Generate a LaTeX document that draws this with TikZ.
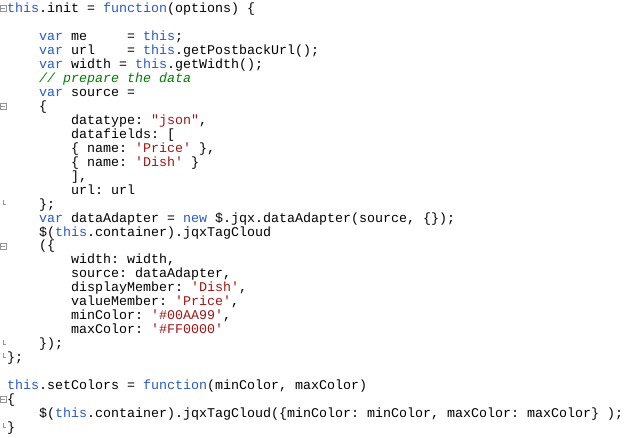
\documentclass[tikz,border=0pt]{standalone}
\usepackage{fontspec}
\usetikzlibrary{calc}
\setmonofont{Liberation Mono}
\definecolor{kw}{RGB}{40,90,200}
\definecolor{st}{RGB}{163,21,21}
\definecolor{cm}{RGB}{0,128,0}
\definecolor{fold}{RGB}{150,150,150}
\newcommand{\K}[1]{\textcolor{kw}{#1}}
\newcommand{\Sq}[1]{\textcolor{st}{#1}}
\tikzset{ln/.style={anchor=base west,inner sep=0pt,font=\ttfamily\fontsize{13.33bp}{14bp}\selectfont,text=black},
 foldbox/.style={draw=fold,fill=white,line width=0.6bp,minimum size=6bp,inner sep=0pt}}
\newcommand{\CL}[3]{\node[ln] (l#1) at ({7+32*#2},{12.5+13.97*(#1-1)}) {#3};}
\begin{document}
\begin{tikzpicture}[x=1bp,y=-1bp]
\useasboundingbox[fill=white] (0,0) rectangle (626,438);
\CL{1}{0}{\K{this}.init = \K{function}(options) \{}
\CL{3}{1}{\K{var} me~~~~ = \K{this};}
\CL{4}{1}{\K{var} url~~~ = \K{this}.getPostbackUrl();}
\CL{5}{1}{\K{var} width = \K{this}.getWidth();}
\CL{6}{1}{\textcolor{cm}{\itshape // prepare the data}}
\CL{7}{1}{\K{var} source =}
\CL{8}{1}{\{}
\CL{9}{2}{datatype: \Sq{"json"},}
\CL{10}{2}{datafields: [}
\CL{11}{2}{\{ name: \Sq{'Price'} \},}
\CL{12}{2}{\{ name: \Sq{'Dish'} \}}
\CL{13}{2}{],}
\CL{14}{2}{url: url}
\CL{15}{1}{\};}
\CL{16}{1}{\K{var} dataAdapter = \K{new} \$.jqx.dataAdapter(source, \{\});}
\CL{17}{1}{\$(\K{this}.container).jqxTagCloud}
\CL{18}{1}{(\{}
\CL{19}{2}{width: width,}
\CL{20}{2}{source: dataAdapter,}
\CL{21}{2}{displayMember: \Sq{'Dish'},}
\CL{22}{2}{valueMember: \Sq{'Price'},}
\CL{23}{2}{minColor: \Sq{'\#00AA99'},}
\CL{24}{2}{maxColor: \Sq{'\#FF0000'}}
\CL{25}{1}{\});}
\CL{26}{0}{\};}
\CL{28}{0}{\K{this}.setColors = \K{function}(minColor, maxColor)}
\CL{29}{0}{\{}
\CL{30}{1}{\$(\K{this}.container).jqxTagCloud(\{minColor: minColor, maxColor: maxColor\} );}
\CL{31}{0}{\}}
\foreach \n/\yy in {f1/8, f8/106, f18/246, f29/399}{
  \node[foldbox] (\n) at (3,\yy) {};
  \draw[fold,line width=0.6bp] ($(\n.center)+(-1.8,0)$) -- ($(\n.center)+(1.8,0)$);
}
\foreach \yy in {204, 344, 357, 427}{
  \draw[fold,line width=0.6bp] (3,\yy-4) -- (3,\yy) -- (6,\yy);
}
\end{tikzpicture}
\end{document}
